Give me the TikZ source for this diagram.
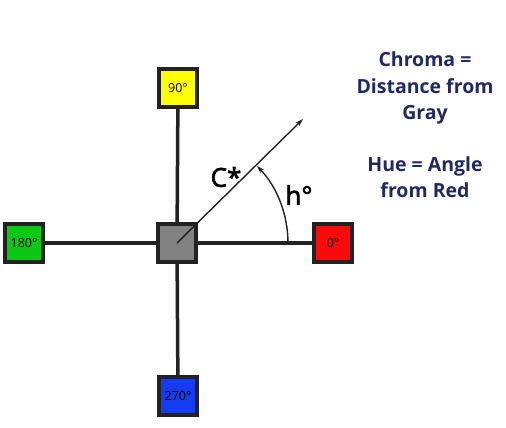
\documentclass[tikz,border=0pt]{standalone}
\usepackage{fontspec}
\setmainfont{Open Sans}
\newfontfamily\boxfont{Open Sans}
\newfontfamily\midfont[FakeBold=2.5]{Open Sans}
\usetikzlibrary{arrows.meta}
\definecolor{navy}{RGB}{32,40,102}
\definecolor{edge}{RGB}{34,34,34}
\definecolor{cyel}{RGB}{255,255,0}
\definecolor{cgrn}{RGB}{10,200,20}
\definecolor{cred}{RGB}{250,10,10}
\definecolor{cblu}{RGB}{20,60,245}
\definecolor{cgry}{RGB}{130,130,130}
\tikzset{
  hbox/.style={draw=edge, line width=3.5pt, minimum size=38pt, inner sep=0pt, font=\boxfont\fontsize{12.5}{13}\selectfont},
  axis/.style={draw=edge, line width=3.5pt},
  thin/.style={draw=edge, line width=1.4pt, -{Stealth[length=8pt,width=5pt]}},
  note/.style={text=navy, font=\bfseries\fontsize{19.5}{26.5}\selectfont, align=center},
  big/.style={font=\midfont\fontsize{26}{26}\selectfont}
}
\begin{document}
\begin{tikzpicture}[x=1pt,y=-1pt]
\useasboundingbox (0,0) rectangle (506,428);
\coordinate (o) at (177,243);
\node[hbox, fill=cyel] (y) at (178,88) {90°};
\node[hbox, fill=cgrn] (g) at (24,243) {180°};
\node[hbox, fill=cred] (r) at (333,243) {0°};
\node[hbox, fill=cblu] (b) at (178,396) {270°};
\draw[axis] (y) -- (o) -- (b);
\draw[axis] (g) -- (r);
\node[hbox, fill=cgry] (c) at (o) {};
\coordinate (tip) at (303,119);
\draw[thin] (c.center) -- (tip);
\draw[thin] (288,243) arc[start angle=0, end angle=-44, radius=111];
\node[big] (cs) at (226,177) {C*};
\node[big] (h) at (299,195) {h°};
\node[note] (t1) at (425,88) {Chroma =\\Distance from\\Gray};
\node[note] (t2) at (425,177) {Hue = Angle\\from Red};
\end{tikzpicture}
\end{document}
